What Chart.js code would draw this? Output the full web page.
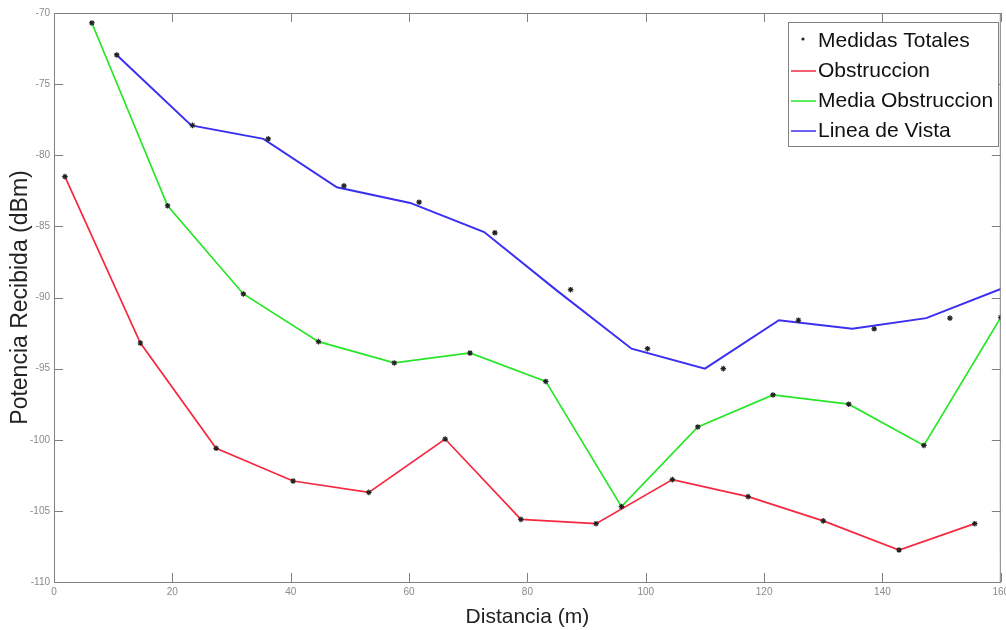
<!DOCTYPE html>
<html>
<head>
<meta charset="utf-8">
<script src="https://cdn.jsdelivr.net/npm/chart.js@4/dist/chart.umd.min.js"></script>
<style>
  body { margin: 0; background: #fff; }
  #wrap { width: 1006px; height: 630px; }
</style>
</head>
<body>
<div id="wrap"><canvas id="grafico" width="1006" height="630"></canvas></div>
<script>

// Datos
const obsX = [1.85, 14.6, 27.4, 40.4, 53.2, 66.1, 78.9, 91.6, 104.5, 117.3, 130.0, 142.8, 155.6]
const obsY = [-81.5, -93.2, -100.6, -102.9, -103.7, -99.95, -105.6, -105.9, -102.8, -104.0, -105.7, -107.75, -105.9]

const mediaX = [6.4, 19.2, 32.0, 44.7, 57.5, 70.3, 83.1, 95.9, 108.8, 121.5, 134.3, 147.0, 160]
const mediaY = [-70.7, -83.55, -89.75, -93.1, -94.6, -93.9, -95.9, -104.7, -99.1, -96.85, -97.5, -100.4, -91.4]

const vistaX = [10.6, 23.2, 35.4, 47.8, 60.2, 72.7, 85.1, 97.6, 110.0, 122.5, 134.9, 147.4, 160]
const vistaY = [-72.95, -77.9, -78.85, -82.25, -83.35, -85.4, -89.55, -93.6, -95.0, -91.6, -92.2, -91.45, -89.4]

// medidas de linea de vista (estrellas)
const vistaMedX = [10.6, 23.4, 36.2, 49.0, 61.7, 74.5, 87.3, 100.3, 113.1, 125.8, 138.6, 151.4]
const vistaMedY = [-72.95, -77.9, -78.85, -82.15, -83.3, -85.45, -89.45, -93.6, -95.0, -91.6, -92.2, -91.45]

const xTicks = [0, 20, 40, 60, 80, 100, 120, 140, 160]
const yTicks = [-110, -105, -100, -95, -90, -85, -80, -75, -70]

const labels = ['Medidas Totales', 'Obstruccion', 'Media Obstruccion', 'Linea de Vista']

function puntos(xs, ys) {
    return xs.map((x, i) => ({ x: x, y: ys[i] }))
}

const medidas = puntos(obsX, obsY).concat(puntos(mediaX, mediaY), puntos(vistaMedX, vistaMedY))

const fuente = 'Liberation Sans, Arial, sans-serif'
const colorEje = '#808080'
const largoTick = 9

// ticks hacia adentro y caja (estilo matlab)
const cajaPlugin = {
    id: 'caja',
    afterDraw(chart) {
        const ctx = chart.ctx
        const a = chart.chartArea
        const sx = chart.scales.x
        const sy = chart.scales.y
        ctx.save()
        ctx.strokeStyle = colorEje
        ctx.lineWidth = 1
        ctx.beginPath()
        ctx.moveTo(a.left, a.top + 0.5)
        ctx.lineTo(a.right, a.top + 0.5)
        ctx.moveTo(a.right - 0.5, a.top)
        ctx.lineTo(a.right - 0.5, a.bottom)
        xTicks.forEach(v => {
            const px = Math.round(sx.getPixelForValue(v)) + 0.5
            ctx.moveTo(px, a.bottom)
            ctx.lineTo(px, a.bottom - largoTick)
            ctx.moveTo(px, a.top)
            ctx.lineTo(px, a.top + largoTick)
        })
        yTicks.forEach(v => {
            const py = Math.round(sy.getPixelForValue(v)) + 0.5
            ctx.moveTo(a.left, py)
            ctx.lineTo(a.left + largoTick, py)
            ctx.moveTo(a.right, py)
            ctx.lineTo(a.right - largoTick, py)
        })
        ctx.stroke()
        ctx.restore()
    }
}

// leyenda dentro del area del grafico
const leyendaPlugin = {
    id: 'leyenda',
    afterDraw(chart) {
        const ctx = chart.ctx
        const x0 = 788, y0 = 22, w = 210, h = 124
        ctx.save()
        ctx.fillStyle = '#fff'
        ctx.fillRect(x0, y0, w, h)
        ctx.strokeStyle = colorEje
        ctx.lineWidth = 1
        ctx.strokeRect(x0 + 0.5, y0 + 0.5, w, h)
        ctx.font = '21px ' + fuente
        ctx.textBaseline = 'middle'
        chart.data.datasets.forEach((ds, i) => {
            const yy = y0 + 19 + i * 30
            if (i == 0) {
                ctx.beginPath()
                ctx.arc(803, yy - 2, 1.6, 0, Math.PI * 2)
                ctx.fillStyle = '#222'
                ctx.fill()
            } else {
                ctx.strokeStyle = ds.borderColor
                ctx.lineWidth = 1.5
                ctx.beginPath()
                ctx.moveTo(791, yy)
                ctx.lineTo(816, yy)
                ctx.stroke()
            }
            ctx.fillStyle = '#111'
            ctx.fillText(ds.label, 818, yy)
        })
        ctx.restore()
    }
}

new Chart(document.getElementById('grafico'), {
    type: 'scatter',
    data: {
        datasets: [
            {
                label: labels[0],
                data: medidas,
                pointStyle: 'star',
                pointRadius: 2.8,
                borderColor: '#222',
                backgroundColor: '#222',
                pointBorderWidth: 1.2,
                showLine: false
            },
            {
                label: labels[1],
                data: puntos(obsX, obsY),
                showLine: true,
                borderColor: '#f5283f',
                borderWidth: 1.7,
                pointRadius: 0
            },
            {
                label: labels[2],
                data: puntos(mediaX, mediaY),
                showLine: true,
                borderColor: '#27e627',
                borderWidth: 1.7,
                pointRadius: 0
            },
            {
                label: labels[3],
                data: puntos(vistaX, vistaY),
                showLine: true,
                borderColor: '#3b2ff2',
                borderWidth: 2,
                pointRadius: 0
            }
        ]
    },
    options: {
        responsive: false,
        animation: false,
        layout: { padding: { top: 13, right: 1, left: 0, bottom: 0 } },
        plugins: {
            legend: { display: false },
            tooltip: { enabled: false }
        },
        scales: {
            x: {
                type: 'linear',
                min: 0,
                max: 160,
                afterBuildTicks: s => { s.ticks = xTicks.map(v => ({ value: v })) },
                afterFit: s => {
                    s.height = 48
                    s.paddingLeft = 0; s.paddingRight = 0; s.paddingTop = 0; s.paddingBottom = 0
                },
                grid: { display: false, drawTicks: false },
                border: { color: colorEje, width: 1 },
                ticks: {
                    autoSkip: false,
                    maxRotation: 0,
                    padding: 4,
                    color: '#8a8a8a',
                    font: { family: fuente, size: 10 }
                },
                title: {
                    display: true,
                    text: 'Distancia (m)',
                    color: '#222',
                    padding: { top: 2, bottom: 0 },
                    font: { family: fuente, size: 21 }
                }
            },
            y: {
                type: 'linear',
                min: -110,
                max: -70,
                afterBuildTicks: s => { s.ticks = yTicks.map(v => ({ value: v })) },
                afterFit: s => {
                    s.width = 54
                    s.paddingLeft = 0; s.paddingRight = 0; s.paddingTop = 0; s.paddingBottom = 0
                },
                grid: { display: false, drawTicks: false },
                border: { color: colorEje, width: 1 },
                ticks: {
                    autoSkip: false,
                    padding: 4,
                    color: '#8a8a8a',
                    font: { family: fuente, size: 10 }
                },
                title: {
                    display: true,
                    text: 'Potencia Recibida (dBm)',
                    color: '#222',
                    padding: { top: 7, bottom: 0 },
                    font: { family: fuente, size: 23 }
                }
            }
        }
    },
    plugins: [cajaPlugin, leyendaPlugin]
})
</script>
</body>
</html>
